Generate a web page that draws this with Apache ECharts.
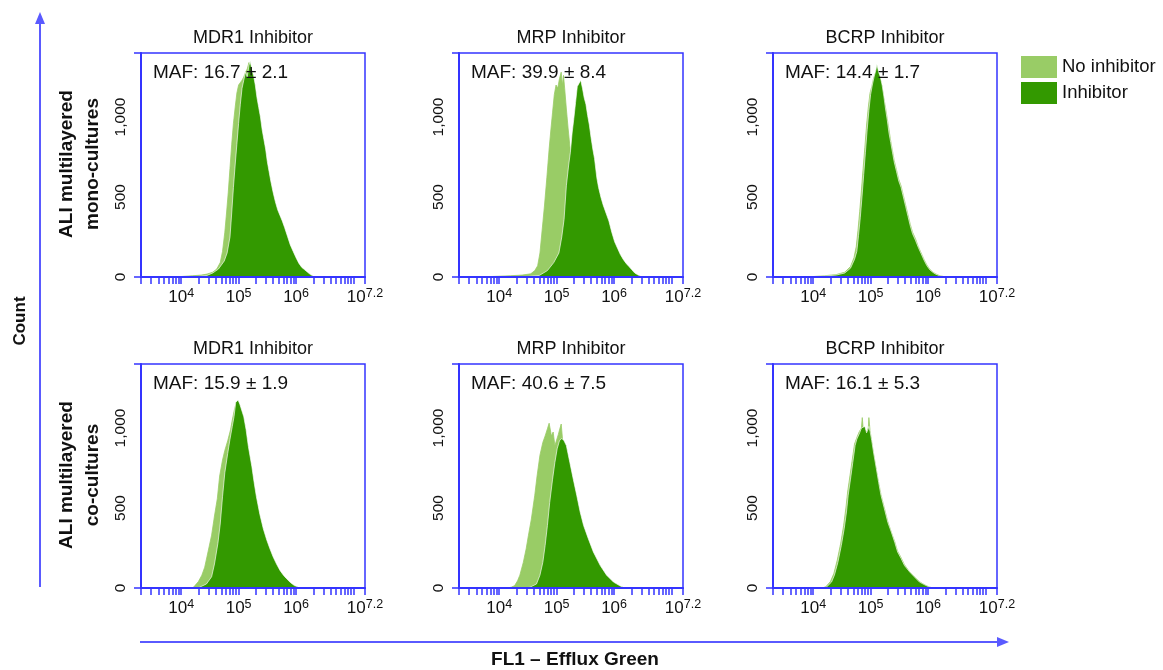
<!DOCTYPE html>
<html><head><meta charset="utf-8">
<script src="https://cdn.jsdelivr.net/npm/echarts@6/dist/echarts.min.js"></script>
<style>html,body{margin:0;padding:0;background:#fff}#c{width:1163px;height:670px}</style>
</head><body><div id="c"></div>
<script>
// ---------- DATA ----------
const panelTitles = ['MDR1 Inhibitor', 'MRP Inhibitor', 'BCRP Inhibitor'];
const rowLabels = ['ALI multilayered\nmono-cultures', 'ALI multilayered\nco-cultures'];
const mafLabels = ['MAF: 16.7 ± 2.1', 'MAF: 39.9 ± 8.4', 'MAF: 14.4 ± 1.7',
                   'MAF: 15.9 ± 1.9', 'MAF: 40.6 ± 7.5', 'MAF: 16.1 ± 5.3'];
const seriesNames = ['No inhibitor', 'Inhibitor'];
const yAxisTitle = 'Count';
const xAxisTitle = 'FL1 – Efflux Green';
const xMinValue = 2000;          // left edge of each panel (FL1 intensity)
const xMaxExponent = 7.2;        // right edge = 10^7.2
const xLabelExponents = [4, 5, 6, 7.2];
const xTickMultipliers = [1, 2, 3, 4, 5, 6, 7, 8, 9];
const xTickDecades = [3, 4, 5, 6];
const yMax = 1400;
const yLabelValues = [0, 500, 1000];
const yTickValues = [0, 1400];

// histogram points: [log10(FL1 intensity), count]
const mdr1MonoNo = [[4.00,3],[4.20,8],[4.35,12],[4.45,18],[4.55,30],[4.62,50],[4.68,90],[4.72,160],[4.76,280],[4.79,400],[4.82,530],[4.85,680],[4.88,830],[4.91,960],[4.94,1060],[4.97,1150],[5.00,1200],[5.03,1190],[5.06,1230],[5.09,1250],[5.12,1280],[5.15,1300],[5.18,1340],[5.21,1290],[5.25,1200],[5.30,1080],[5.35,950],[5.40,820],[5.45,700],[5.50,600],[5.55,500],[5.60,420],[5.65,350],[5.70,290],[5.75,240],[5.80,190],[5.85,150],[5.90,110],[5.95,75],[6.00,50],[6.10,20],[6.20,5],[6.30,0]];
const mdr1MonoInh = [[4.30,3],[4.45,10],[4.55,25],[4.65,50],[4.75,100],[4.80,150],[4.85,250],[4.88,400],[4.91,560],[4.94,700],[4.97,830],[5.00,960],[5.03,1080],[5.06,1180],[5.09,1230],[5.12,1280],[5.15,1250],[5.18,1320],[5.20,1350],[5.23,1300],[5.26,1260],[5.29,1200],[5.32,1120],[5.35,1060],[5.38,1000],[5.41,920],[5.44,860],[5.47,800],[5.50,720],[5.53,660],[5.56,600],[5.60,530],[5.64,470],[5.68,420],[5.72,385],[5.76,350],[5.80,310],[5.85,255],[5.90,200],[5.95,160],[6.00,120],[6.05,85],[6.10,60],[6.15,45],[6.20,30],[6.25,15],[6.30,6],[6.35,0]];
const mrpMonoNo = [[3.80,2],[4.00,5],[4.20,8],[4.40,12],[4.55,20],[4.62,40],[4.67,70],[4.71,150],[4.75,300],[4.79,450],[4.83,620],[4.87,800],[4.90,920],[4.93,1030],[4.96,1140],[4.99,1200],[5.02,1180],[5.05,1240],[5.08,1280],[5.10,1200],[5.12,1260],[5.14,1180],[5.17,1050],[5.20,930],[5.23,820],[5.26,700],[5.30,570],[5.35,440],[5.40,350],[5.50,240],[5.60,150],[5.70,90],[5.80,45],[5.90,20],[6.00,6],[6.10,0]];
const mrpMonoInh = [[4.50,3],[4.70,10],[4.84,40],[4.95,90],[5.04,150],[5.09,250],[5.13,360],[5.17,570],[5.21,700],[5.24,780],[5.27,900],[5.30,990],[5.33,1090],[5.36,1190],[5.39,1210],[5.42,1230],[5.45,1180],[5.48,1120],[5.51,1080],[5.54,1010],[5.57,950],[5.60,870],[5.63,800],[5.66,740],[5.70,620],[5.73,560],[5.77,500],[5.81,450],[5.86,400],[5.91,350],[5.96,280],[6.01,220],[6.06,180],[6.11,140],[6.16,110],[6.21,85],[6.26,65],[6.31,45],[6.36,25],[6.42,12],[6.48,3],[6.52,0]];
const bcrpMonoNo = [[4.00,3],[4.20,8],[4.40,15],[4.55,30],[4.65,65],[4.71,120],[4.75,190],[4.78,290],[4.81,410],[4.84,540],[4.87,680],[4.90,810],[4.93,950],[4.96,1060],[4.99,1150],[5.02,1190],[5.05,1240],[5.08,1270],[5.11,1300],[5.14,1260],[5.17,1230],[5.20,1190],[5.23,1120],[5.26,1060],[5.29,990],[5.32,920],[5.35,850],[5.38,790],[5.41,730],[5.45,670],[5.49,610],[5.53,570],[5.57,510],[5.61,450],[5.65,390],[5.69,330],[5.73,280],[5.78,240],[5.83,190],[5.88,150],[5.93,110],[5.98,75],[6.03,48],[6.08,32],[6.13,20],[6.20,9],[6.27,3],[6.32,0]];
const bcrpMonoInh = [[4.00,2],[4.20,6],[4.40,12],[4.55,25],[4.65,55],[4.72,110],[4.76,160],[4.79,260],[4.82,370],[4.85,500],[4.88,640],[4.91,780],[4.94,920],[4.97,1040],[5.00,1140],[5.03,1200],[5.06,1250],[5.09,1290],[5.11,1330],[5.14,1280],[5.17,1250],[5.20,1200],[5.23,1130],[5.26,1050],[5.29,980],[5.32,900],[5.35,840],[5.38,780],[5.41,720],[5.45,660],[5.49,600],[5.53,560],[5.57,500],[5.61,440],[5.65,380],[5.69,320],[5.73,270],[5.78,230],[5.83,185],[5.88,145],[5.93,105],[5.98,70],[6.03,45],[6.08,30],[6.13,18],[6.20,8],[6.27,2],[6.32,0]];
const mdr1CoNo = [[4.20,0],[4.24,15],[4.30,40],[4.36,80],[4.41,130],[4.47,230],[4.53,330],[4.58,450],[4.63,560],[4.67,700],[4.72,800],[4.76,860],[4.81,920],[4.86,990],[4.89,1050],[4.93,1120],[4.96,1160],[4.99,1170],[5.05,1080],[5.10,960],[5.15,860],[5.20,740],[5.25,620],[5.30,520],[5.36,420],[5.42,330],[5.48,260],[5.54,200],[5.60,150],[5.66,110],[5.72,80],[5.80,45],[5.90,20],[6.00,5],[6.05,0]];
const mdr1CoInh = [[4.32,5],[4.44,25],[4.53,70],[4.58,150],[4.64,280],[4.68,400],[4.72,570],[4.76,720],[4.81,840],[4.85,930],[4.89,1010],[4.92,1070],[4.95,1160],[4.97,1170],[4.99,1175],[5.02,1150],[5.05,1140],[5.09,1070],[5.13,990],[5.17,885],[5.23,760],[5.27,660],[5.31,570],[5.37,460],[5.43,370],[5.49,300],[5.54,250],[5.60,195],[5.66,150],[5.72,110],[5.78,80],[5.83,60],[5.90,35],[5.97,15],[6.05,5],[6.10,0]];
const mrpCoNo = [[4.15,0],[4.21,5],[4.27,15],[4.32,45],[4.36,80],[4.42,160],[4.47,245],[4.51,330],[4.56,430],[4.62,580],[4.66,700],[4.71,830],[4.76,910],[4.80,950],[4.84,995],[4.87,1030],[4.91,950],[4.94,975],[4.97,890],[5.00,900],[5.03,960],[5.06,1000],[5.08,1025],[5.11,900],[5.15,820],[5.20,720],[5.25,640],[5.30,560],[5.36,470],[5.42,380],[5.48,300],[5.55,230],[5.62,170],[5.70,110],[5.78,65],[5.86,35],[5.95,12],[6.05,2],[6.10,0]];
const mrpCoInh = [[4.45,0],[4.53,4],[4.65,25],[4.71,80],[4.76,160],[4.80,265],[4.84,390],[4.88,535],[4.93,680],[4.97,785],[5.01,870],[5.05,920],[5.09,935],[5.13,920],[5.17,890],[5.23,785],[5.29,680],[5.35,580],[5.41,475],[5.47,390],[5.55,310],[5.64,225],[5.76,140],[5.87,80],[5.99,37],[6.11,12],[6.17,4],[6.22,0]];
const bcrpCoNo = [[4.16,0],[4.22,8],[4.30,40],[4.36,90],[4.42,175],[4.48,280],[4.53,390],[4.57,500],[4.60,600],[4.64,700],[4.68,800],[4.72,900],[4.76,940],[4.80,975],[4.84,1000],[4.855,1065],[4.87,1000],[4.90,1000],[4.93,975],[4.96,1000],[4.97,1065],[4.99,985],[5.02,915],[5.05,845],[5.10,740],[5.14,660],[5.18,585],[5.24,500],[5.30,415],[5.36,350],[5.42,290],[5.47,230],[5.53,190],[5.59,145],[5.68,100],[5.76,70],[5.85,40],[5.94,20],[6.02,7],[6.08,0]];
const bcrpCoInh = [[4.18,0],[4.23,5],[4.32,37],[4.37,80],[4.43,160],[4.49,265],[4.54,370],[4.58,475],[4.61,580],[4.65,680],[4.69,785],[4.73,890],[4.76,930],[4.81,970],[4.84,1000],[4.855,1010],[4.87,990],[4.90,1010],[4.93,970],[4.96,995],[4.97,1010],[4.99,980],[5.02,920],[5.05,850],[5.10,745],[5.14,660],[5.18,580],[5.24,495],[5.30,410],[5.36,350],[5.42,285],[5.47,225],[5.53,185],[5.59,140],[5.68,100],[5.76,70],[5.85,37],[5.94,20],[6.02,6],[6.08,0]];

// ---------- LAYOUT / STYLE ----------
const FONT = '"Liberation Sans", Arial, sans-serif';
const BLUE = '#3434ff';
const ARROW = '#5a5aff';
const LIGHT = '#99cc66';
const DARK = '#339900';
const gridLefts = [141, 459, 773];
const gridTops = [53, 364];
const gridSize = 224;

const panels = [
  [mdr1MonoNo, mdr1MonoInh], [mrpMonoNo, mrpMonoInh], [bcrpMonoNo, bcrpMonoInh],
  [mdr1CoNo, mdr1CoInh], [mrpCoNo, mrpCoInh], [bcrpCoNo, bcrpCoInh]
];

const xTickExps = [];
xTickDecades.forEach(d => xTickMultipliers.forEach(m => {
  const v = m * Math.pow(10, d);
  if (v >= xMinValue) xTickExps.push(Math.log10(v));
}));
xTickExps.push(7, xMaxExponent);

const grids = [], xAxes = [], yAxes = [], series = [], graphics = [];
panels.forEach((p, i) => {
  const r = Math.floor(i / 3), c = i % 3;
  const left = gridLefts[c], top = gridTops[r];
  grids.push({left, top, width: gridSize, height: gridSize, show: true,
    borderColor: BLUE, borderWidth: 1.5, backgroundColor: 'transparent',
    containLabel: false, outerBoundsMode: 'none'});
  xAxes.push({gridIndex: i, type: 'value', min: Math.log10(xMinValue), max: xMaxExponent, z: 5,
    axisLine: {show: true, onZero: false, lineStyle: {color: BLUE, width: 2}},
    axisTick: {show: true, customValues: xTickExps, length: 7, lineStyle: {color: BLUE, width: 1.5}},
    axisLabel: {show: true, customValues: xLabelExponents, margin: 10, color: '#111',
      showMinLabel: true, showMaxLabel: true, hideOverlap: false,
      formatter: v => {
        const e = xLabelExponents.find(x => Math.abs(x - v) < 1e-6);
        return '{b|10}{s|' + (e === undefined ? v : e) + '}';
      },
      rich: {b: {fontSize: 17, lineHeight: 20, fontFamily: FONT, color: '#111'},
             s: {fontSize: 12.5, lineHeight: 14, verticalAlign: 'top', fontFamily: FONT, color: '#111'}}},
    splitLine: {show: false}});
  yAxes.push({gridIndex: i, type: 'value', min: 0, max: yMax, z: 5,
    axisLine: {show: true, lineStyle: {color: BLUE, width: 2}},
    axisTick: {show: true, customValues: yTickValues, length: 7, lineStyle: {color: BLUE, width: 1.5}},
    axisLabel: {show: true, customValues: yLabelValues, rotate: 90, margin: 12, color: '#111',
      fontSize: 15.5, fontFamily: FONT, formatter: v => v.toLocaleString('en-US')},
    splitLine: {show: false}});
  series.push({type: 'line', name: seriesNames[0], xAxisIndex: i, yAxisIndex: i, data: p[0],
    symbol: 'none', silent: true, z: 2, itemStyle: {color: LIGHT},
    lineStyle: {width: 0.8, color: LIGHT}, areaStyle: {color: LIGHT, opacity: 1}});
  series.push({type: 'line', name: seriesNames[1], xAxisIndex: i, yAxisIndex: i, data: p[1],
    symbol: 'none', silent: true, z: 3, itemStyle: {color: DARK},
    lineStyle: {width: 0.8, color: 'rgba(255,255,255,0.8)'}, areaStyle: {color: DARK, opacity: 1}});
  // panel title
  graphics.push({type: 'text', x: left + gridSize / 2, y: top - 15, z: 10,
    style: {text: panelTitles[c], font: '18px ' + FONT, fill: '#111',
      textAlign: 'center', textVerticalAlign: 'middle', align: 'center', verticalAlign: 'middle'}});
  // MAF annotation
  graphics.push({type: 'text', x: left + 12, y: top + 20, z: 10,
    style: {text: mafLabels[i], font: '19px ' + FONT, fill: '#111',
      textAlign: 'left', textVerticalAlign: 'middle', align: 'left', verticalAlign: 'middle'}});
});

// row labels
rowLabels.forEach((t, r) => {
  graphics.push({type: 'text', x: 80, y: gridTops[r] + 111, rotation: Math.PI / 2, z: 10,
    style: {text: t, font: 'bold 19px ' + FONT, fill: '#111', lineHeight: 26,
      textAlign: 'center', textVerticalAlign: 'middle', align: 'center', verticalAlign: 'middle'}});
});
// big axes arrows
graphics.push({type: 'line', shape: {x1: 40, y1: 587, x2: 40, y2: 22}, style: {stroke: ARROW, lineWidth: 2}});
graphics.push({type: 'polygon', shape: {points: [[40, 12], [35, 24], [45, 24]]}, style: {fill: ARROW}});
graphics.push({type: 'line', shape: {x1: 140, y1: 642, x2: 998, y2: 642}, style: {stroke: ARROW, lineWidth: 2}});
graphics.push({type: 'polygon', shape: {points: [[1009, 642], [997, 637], [997, 647]]}, style: {fill: ARROW}});
graphics.push({type: 'text', x: 20, y: 321, rotation: Math.PI / 2, z: 10,
  style: {text: yAxisTitle, font: 'bold 17px ' + FONT, fill: '#111',
    textAlign: 'center', textVerticalAlign: 'middle', align: 'center', verticalAlign: 'middle'}});
graphics.push({type: 'text', x: 575, y: 660, z: 10,
  style: {text: xAxisTitle, font: 'bold 19px ' + FONT, fill: '#111',
    textAlign: 'center', textVerticalAlign: 'middle', align: 'center', verticalAlign: 'middle'}});

const chart = echarts.init(document.getElementById('c'), null, {renderer: 'canvas'});
chart.setOption({
  animation: false,
  backgroundColor: '#fff',
  grid: grids, xAxis: xAxes, yAxis: yAxes, series: series,
  legend: {data: seriesNames, orient: 'vertical', left: 1021, top: 56, padding: 0,
    itemWidth: 36, itemHeight: 22, itemGap: 4, icon: 'rect', selectedMode: false,
    textStyle: {fontSize: 18.5, color: '#111', fontFamily: FONT}},
  graphic: graphics
});
</script>
</body></html>
